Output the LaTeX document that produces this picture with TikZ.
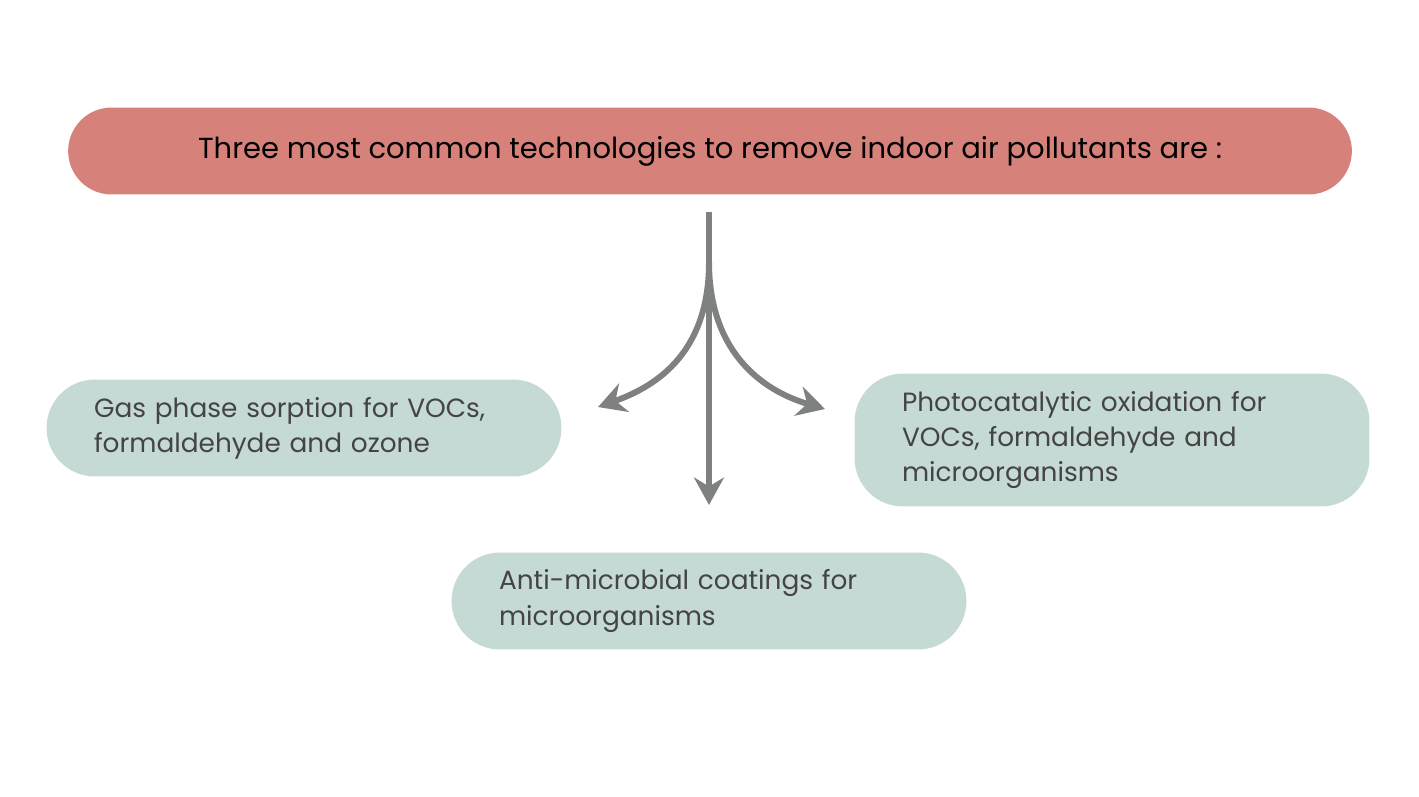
\documentclass[tikz,border=0pt]{standalone}
\usepackage{fontspec}
\setmainfont{Poppins}
\usetikzlibrary{arrows.meta}
\definecolor{headred}{HTML}{D6827A}
\definecolor{boxgreen}{HTML}{C5D9D5}
\definecolor{arrowgray}{HTML}{7F8180}
\definecolor{textgray}{HTML}{444444}
\tikzset{
    tech/.style={fill=boxgreen, rounded corners=0.97cm, text=textgray, align=left, font=\fontsize{15}{20}\selectfont, inner xsep=0.95cm},
    flow/.style={draw=arrowgray, line width=3.4pt, -{Stealth[length=0.55cm, width=0.6cm, inset=0.18cm]}}
}
\begin{document}
\begin{tikzpicture}[x=0.02cm, y=-0.02cm]
    \useasboundingbox (0, 0) rectangle (1419, 797);

    \node[fill=headred, rounded corners=0.87cm, minimum width=25.68cm, minimum height=1.74cm, font=\fontsize{16.5}{20}\selectfont] (head) at (710, 151) {Three most common technologies to remove indoor air pollutants are :};

    \node[tech, minimum width=10.3cm, minimum height=1.94cm, text width=8.4cm] (gas) at (304, 428) {Gas phase sorption for VOCs,\\formaldehyde and ozone};
    \node[tech, minimum width=10.3cm, minimum height=2.66cm, text width=8.4cm] (photo) at (1112, 440) {Photocatalytic oxidation for\\VOCs, formaldehyde and\\microorganisms};
    \node[tech, minimum width=10.28cm, minimum height=1.94cm, text width=8.4cm] (coat) at (709, 601) {Anti-microbial coatings for\\microorganisms};

    \coordinate (top) at (709, 212);
    \coordinate (split) at (709, 262);
    \coordinate (lend) at (598, 407);
    \coordinate (rend) at (825, 409);
    \coordinate (dend) at (709, 505);

    \draw[draw=arrowgray, line width=3.4pt] (top) -- (split);
    \draw[flow] (split) -- (dend);
    \draw[flow] (split) .. controls (709, 350) and (660, 385) .. (lend);
    \draw[flow] (split) .. controls (709, 350) and (760, 390) .. (rend);
\end{tikzpicture}
\end{document}
